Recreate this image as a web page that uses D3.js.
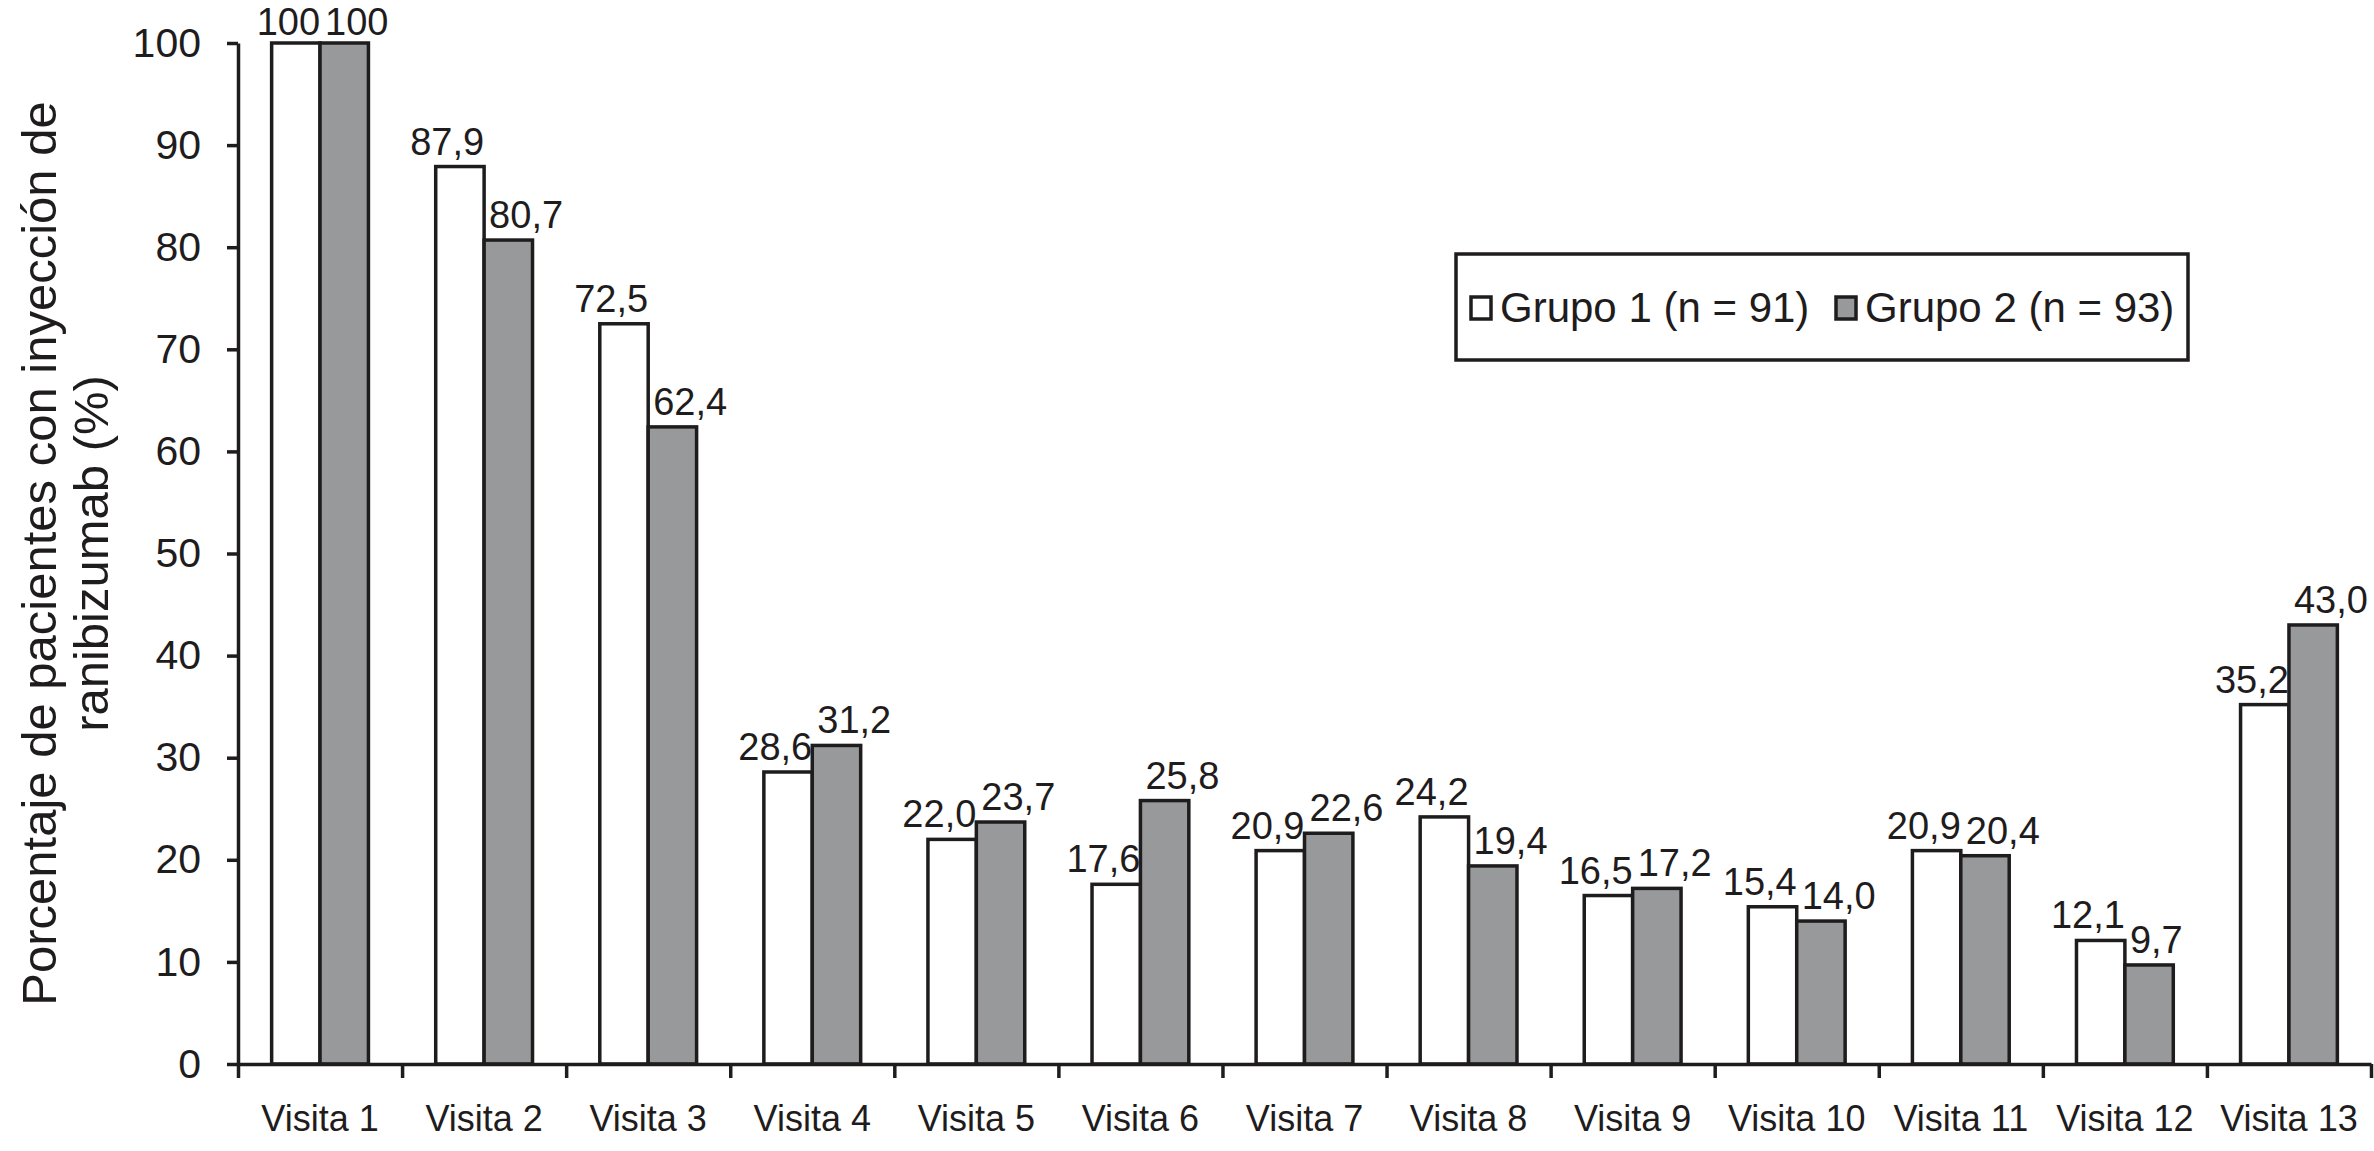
<!DOCTYPE html>
<html lang="es">
<head>
  <meta charset="UTF-8">
  <title>Porcentaje de pacientes con inyección de ranibizumab</title>
  <script src="https://d3js.org/d3.v7.min.js"></script>
  <style>
    body { margin: 0; background: #fff; }
    svg { display: block; font-family: "Liberation Sans", Arial, sans-serif; }
  </style>
</head>
<body>
  <svg width="2374" height="1151"></svg>
  <script>
    // data
    const visits = ["Visita 1", "Visita 2", "Visita 3", "Visita 4", "Visita 5", "Visita 6", "Visita 7",
                    "Visita 8", "Visita 9", "Visita 10", "Visita 11", "Visita 12", "Visita 13"];
    const grupo1 = [100, 87.9, 72.5, 28.6, 22.0, 17.6, 20.9, 24.2, 16.5, 15.4, 20.9, 12.1, 35.2];
    const grupo2 = [100, 80.7, 62.4, 31.2, 23.7, 25.8, 22.6, 19.4, 17.2, 14.0, 20.4, 9.7, 43.0];
    const seriesNames = ["Grupo 1 (n = 91)", "Grupo 2 (n = 93)"];
    const yTicks = [0, 10, 20, 30, 40, 50, 60, 70, 80, 90, 100];

    const ink = "#1f1c1d";
    const fills = ["#ffffff", "#98999b"];

    const svg = d3.select("svg");
    const margin = { left: 238, right: 3, top: 43, bottom: 87 };
    const width = 2374, height = 1151;

    const x0 = d3.scaleBand().domain(visits).range([margin.left, width - margin.right]);
    const bw = x0.bandwidth();
    const x1 = d3.scaleBand().domain([0, 1]).range([bw * 0.205, bw * 0.795]);
    const y = d3.scaleLinear().domain([0, 100]).range([height - margin.bottom, margin.top]);

    const rows = visits.map((v, i) => ({ visit: v, values: [grupo1[i], grupo2[i]] }));

    const fmt = v => v === 100 ? "100" : v.toFixed(1).replace(".", ",");

    // bars
    const g = svg.append("g");
    const grp = g.selectAll("g.visit")
      .data(rows)
      .join("g")
      .attr("transform", d => `translate(${x0(d.visit)},0)`);

    grp.selectAll("rect")
      .data(d => d.values.map((v, k) => ({ v, k })))
      .join("rect")
      .attr("x", d => x1(d.k))
      .attr("width", x1.bandwidth())
      .attr("y", d => y(d.v))
      .attr("height", d => y(0) - y(d.v))
      .attr("fill", d => fills[d.k])
      .attr("stroke", ink)
      .attr("stroke-width", 3.5);

    grp.selectAll("text")
      .data(d => d.values.map((v, k) => ({ v, k })))
      .join("text")
      .attr("x", d => d.k === 0 ? x1(0) + x1.bandwidth() : x1(1) + 5)
      .attr("y", d => y(d.v) - (d.v === 100 ? 8 : 12))
      .attr("text-anchor", d => d.k === 0 ? "end" : "start")
      .attr("font-size", 38)
      .attr("fill", ink)
      .text(d => fmt(d.v));

    // y axis
    const yAxis = svg.append("g")
      .attr("transform", `translate(${margin.left},0)`)
      .call(d3.axisLeft(y).tickValues(yTicks).tickSize(11).tickSizeOuter(0).tickPadding(26));
    yAxis.select(".domain").attr("stroke", ink).attr("stroke-width", 3.5);
    yAxis.selectAll(".tick line").attr("stroke", ink).attr("stroke-width", 3.5);
    yAxis.selectAll(".tick text").attr("font-size", 41).attr("fill", ink)
      .attr("font-family", "Liberation Sans, Arial, sans-serif");

    // x axis: ticks on band boundaries
    const xEdge = d3.scaleLinear().domain([0, visits.length]).range(x0.range());
    const xAxis = svg.append("g")
      .attr("transform", `translate(0,${y(0)})`)
      .call(d3.axisBottom(xEdge).tickValues(d3.range(visits.length + 1))
        .tickSize(14).tickSizeOuter(0).tickFormat(""));
    xAxis.select(".domain").attr("stroke", ink).attr("stroke-width", 3.5);
    xAxis.selectAll(".tick line").attr("stroke", ink).attr("stroke-width", 3.5);

    const xLab = svg.append("g")
      .attr("transform", `translate(0,${y(0)})`)
      .call(d3.axisBottom(x0).tickSize(0).tickPadding(41));
    xLab.select(".domain").remove();
    xLab.selectAll(".tick text").attr("font-size", 36).attr("fill", ink)
      .attr("font-family", "Liberation Sans, Arial, sans-serif");

    // y title
    const yMid = (y(0) + y(100)) / 2;
    const title = svg.append("text")
      .attr("transform", `translate(56,${yMid}) rotate(-90)`)
      .attr("text-anchor", "middle")
      .attr("font-size", 49)
      .attr("fill", ink);
    title.append("tspan").attr("x", 0).attr("y", 0).text("Porcentaje de pacientes con inyección de");
    title.append("tspan").attr("x", 0).attr("y", 52).text("ranibizumab (%)");

    // legend
    const lg = svg.append("g").attr("transform", "translate(1456,254)");
    lg.append("rect")
      .attr("width", 732).attr("height", 106)
      .attr("fill", "#fff").attr("stroke", ink).attr("stroke-width", 3.5);
    const legendX = [15, 380];
    seriesNames.forEach((name, k) => {
      lg.append("rect")
        .attr("x", legendX[k]).attr("y", 43)
        .attr("width", 20).attr("height", 22)
        .attr("fill", fills[k]).attr("stroke", ink).attr("stroke-width", 3.5);
      lg.append("text")
        .attr("x", legendX[k] + 29).attr("y", 68)
        .attr("font-size", 42).attr("fill", ink)
        .text(name);
    });
  </script>
</body>
</html>
